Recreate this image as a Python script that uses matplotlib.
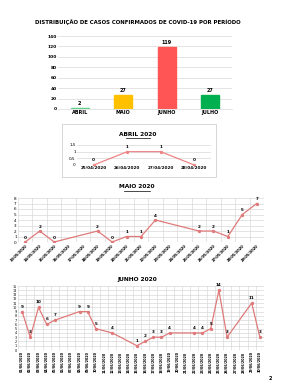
import matplotlib.pyplot as plt
from matplotlib.patches import Rectangle

# dados
meses = ["ABRIL", "MAIO", "JUNHO", "JULHO"]
casos_mes = [2, 27, 119, 27]
cores_mes = ["#5fcf8a", "#ffc000", "#ff5555", "#00b050"]

abril_datas = ["25/04/2020", "26/04/2020", "27/04/2020", "28/04/2020"]
abril_casos = [0, 1, 1, 0]

maio_datas = ["%02d/05/2020" % d for d in range(13, 30)]
maio_dias = [13, 14, 15, 18, 19, 20, 21, 22, 25, 26, 27, 28, 29]
maio_casos = [0, 2, 0, 2, 0, 1, 1, 4, 2, 2, 1, 5, 7]

junho_datas = ["%02d/06/2020" % d for d in range(1, 31)]
junho_dias = [1, 2, 3, 4, 5, 8, 9, 10, 12, 15, 16, 17, 18, 19, 22, 23, 24, 25, 26, 29, 30]
junho_casos = [9, 3, 10, 6, 7, 9, 9, 5, 4, 1, 2, 3, 3, 4, 4, 4, 5, 14, 3, 11, 3]

W, H = 281, 389
fig = plt.figure(figsize=(W / 100, H / 100), dpi=100)
plt.rcParams['font.family'] = ['DejaVu Sans']

grid_c = "#d9d9d9"
linha_c = "#e07a7a"


def eixo(x0, y0, x1, y1):
    return fig.add_axes([x0 / W, 1 - y1 / H, (x1 - x0) / W, (y1 - y0) / H])


def limpa(ax):
    for s in ax.spines.values():
        s.set_visible(False)
    ax.tick_params(length=0, pad=1)


# grafico de barras
fig.text(138 / W, 1 - 22 / H, "DISTRIBUIÇÃO DE CASOS CONFIRMADOS DE COVID-19 POR PERÍODO",
         ha="center", va="center", fontsize=3.9, fontweight="bold")
ax = eixo(58, 36, 232, 109)
x = range(len(meses))
ax.bar(x, casos_mes, width=0.42, color=cores_mes, edgecolor=cores_mes, zorder=3)
for i, v in enumerate(casos_mes):
    ax.text(i, v + 4, str(v), ha="center", va="bottom", fontsize=3.5, fontweight="bold")
ax.set_ylim(0, 140)
ax.set_xlim(-0.5, 3.5)
ax.set_yticks(range(0, 141, 20))
ax.set_xticks(list(x))
ax.set_xticklabels(meses, fontsize=3.5, fontweight="bold")
ax.tick_params(axis="y", labelsize=3.2)
ax.grid(axis="y", color=grid_c, linewidth=0.5, zorder=0)
limpa(ax)
ax.spines["bottom"].set_visible(True)
ax.spines["bottom"].set_color(grid_c)
ax.spines["bottom"].set_linewidth(0.5)
for t in ax.get_yticklabels():
    t.set_fontweight("bold")

# abril
fig.patches.append(Rectangle((62 / W, 1 - 177 / H), 154 / W, 53 / H, transform=fig.transFigure,
                             fill=False, edgecolor="#d0d0d0", linewidth=0.6))
fig.text(138 / W, 1 - 134 / H, "ABRIL 2020", ha="center", va="center", fontsize=4.2,
         fontweight="bold", usetex=False)
fig.add_artist(plt.Line2D([126 / W, 150 / W], [1 - 137.5 / H, 1 - 137.5 / H], color="black", linewidth=0.5))
ax = eixo(77, 145, 211, 165)
xa = range(len(abril_datas))
ax.plot(xa, abril_casos, color="#f08585", linewidth=0.9, marker="o", markersize=1.4)
for i, v in enumerate(abril_casos):
    ax.text(i, v + 0.2, str(v), ha="center", va="bottom", fontsize=3, fontweight="bold")
ax.set_ylim(0, 1.5)
ax.set_xlim(-0.5, 3.5)
ax.set_yticks([0, 0.5, 1, 1.5])
ax.set_yticklabels(["0", "0,5", "1", "1,5"], fontsize=3)
ax.set_xticks(list(xa))
ax.set_xticklabels(abril_datas, fontsize=3, fontweight="bold")
ax.grid(axis="y", color=grid_c, linewidth=0.5)
limpa(ax)

# maio
fig.text(137 / W, 1 - 187 / H, "MAIO 2020", ha="center", va="center", fontsize=4.2, fontweight="bold")
fig.add_artist(plt.Line2D([124 / W, 150 / W], [1 - 190.5 / H, 1 - 190.5 / H], color="black", linewidth=0.5))
ax = eixo(18, 198, 264, 242)
xm = [d - 13 for d in maio_dias]
ax.plot(xm, maio_casos, color=linha_c, linewidth=0.9, marker="o", markersize=1.4, zorder=3)
for i, v in zip(xm, maio_casos):
    ax.text(i, v + 0.4, str(v), ha="center", va="bottom", fontsize=3, fontweight="bold")
ax.set_ylim(0, 8)
ax.set_xlim(-0.5, len(maio_datas) - 0.5)
ax.set_yticks(range(0, 9))
ax.tick_params(axis="y", labelsize=3)
ax.set_xticks(range(len(maio_datas)))
ax.set_xticklabels(maio_datas, fontsize=2.6, fontweight="bold", rotation=45, ha="right",
                   rotation_mode="anchor")
ax.set_xticks([i - 0.5 for i in range(len(maio_datas) + 1)], minor=True)
ax.grid(axis="y", color=grid_c, linewidth=0.5)
ax.grid(axis="x", which="minor", color=grid_c, linewidth=0.5)
limpa(ax)
ax.tick_params(which="minor", length=0)

# junho
fig.text(137 / W, 1 - 279 / H, "JUNHO 2020", ha="center", va="center", fontsize=4.2, fontweight="bold")
ax = eixo(18, 286, 264, 350)
xj = [d - 1 for d in junho_dias]
ax.plot(xj, junho_casos, color=linha_c, linewidth=0.9, marker="o", markersize=1.4, zorder=3)
for i, v in zip(xj, junho_casos):
    ax.text(i, v + 0.7, str(v), ha="center", va="bottom", fontsize=3, fontweight="bold")
ax.set_ylim(0, 15)
ax.set_xlim(-0.5, len(junho_datas) - 0.5)
ax.set_yticks(range(0, 16))
ax.tick_params(axis="y", labelsize=2.4)
ax.set_xticks(range(len(junho_datas)))
ax.set_xticklabels(junho_datas, fontsize=2.4, fontweight="bold", rotation=90)
ax.set_xticks([i - 0.5 for i in range(len(junho_datas) + 1)], minor=True)
ax.grid(axis="y", color=grid_c, linewidth=0.5)
ax.grid(axis="x", which="minor", color=grid_c, linewidth=0.5)
limpa(ax)
ax.tick_params(which="minor", length=0)

fig.text(270 / W, 1 - 378 / H, "2", ha="center", va="center", fontsize=3.5, fontweight="bold")

fig.savefig("out.png", dpi=100)
